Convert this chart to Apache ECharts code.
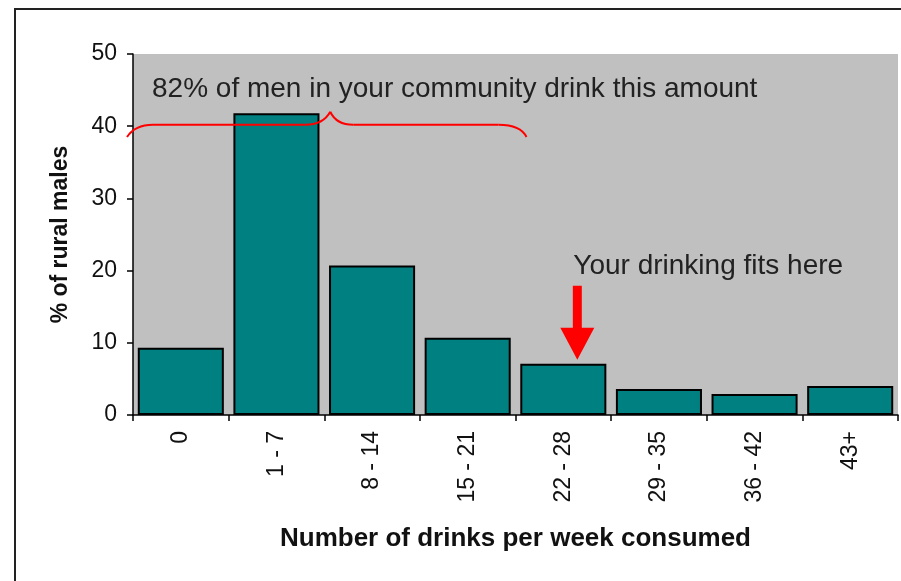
<!DOCTYPE html>
<html>
<head>
<meta charset="utf-8">
<script src="https://cdn.jsdelivr.net/npm/echarts@6/dist/echarts.min.js"></script>
<style>
  html, body { margin: 0; padding: 0; background: #fff; }
  #chart { width: 901px; height: 581px; }
</style>
</head>
<body>
<div id="chart"></div>
<script>
// Weekly drink counts for rural males
const categories = ['0', '1 - 7', '8 - 14', '15 - 21', '22 - 28', '29 - 35', '36 - 42', '43+'];
const percentMales = [9.3, 41.8, 20.7, 10.7, 7.1, 3.6, 2.9, 4.0];
const yTicks = { min: 0, max: 50, interval: 10 };

// Annotation texts and the categories they refer to
const braceText = '82% of men in your community drink this amount';
const braceFirst = 0;   // first category under the brace
const braceLast = 3;    // last category under the brace
const arrowText = 'Your drinking fits here';
const arrowCategory = 4;

const FONT = "'Liberation Sans', Arial, sans-serif";

const chart = echarts.init(document.getElementById('chart'), null, { renderer: 'canvas' });

chart.setOption({
  animation: false,
  backgroundColor: '#ffffff',
  grid: {
    left: 133, right: 3, top: 54, bottom: 166,
    show: true, backgroundColor: '#C0C0C0', borderWidth: 0
  },
  xAxis: {
    type: 'category',
    data: categories,
    boundaryGap: true,
    axisLine: { show: true, lineStyle: { color: '#000', width: 1.5 } },
    axisTick: { show: true, length: 6, inside: false, lineStyle: { color: '#000', width: 1.5 } },
    axisLabel: { rotate: 90, fontSize: 23, color: '#111', margin: 16, fontFamily: FONT },
    name: 'Number of drinks per week consumed',
    nameLocation: 'middle',
    nameGap: 111,
    nameTextStyle: { fontSize: 26, fontWeight: 'bold', color: '#111', fontFamily: FONT }
  },
  yAxis: {
    type: 'value',
    min: yTicks.min, max: yTicks.max, interval: yTicks.interval,
    axisLine: { show: true, lineStyle: { color: '#000', width: 1.5 } },
    axisTick: { show: true, length: 6, inside: false, lineStyle: { color: '#000', width: 1.5 } },
    splitLine: { show: false },
    axisLabel: { fontSize: 23, color: '#111', margin: 16, fontFamily: FONT },
    name: '% of rural males',
    nameLocation: 'middle',
    nameGap: 61,
    nameTextStyle: { fontSize: 23, fontWeight: 'bold', color: '#111', fontFamily: FONT }
  },
  series: [{
    type: 'bar',
    data: percentMales,
    barCategoryGap: '10%',
    itemStyle: { color: '#008080', borderColor: '#000', borderWidth: 2 }
  }]
});

// Place the brace, arrow and notes against the axes
function drawAnnotations() {
  const px = (i) => chart.convertToPixel({ xAxisIndex: 0 }, i);
  const py = (v) => chart.convertToPixel({ yAxisIndex: 0 }, v);
  const band = px(1) - px(0);

  const L = px(braceFirst) - band / 2 - 6;
  const R = px(braceLast) + band / 2 + 11;
  const C = px(braceFirst) + band * 1.5 + 6;
  const yLine = py(40.2);
  const yEnd = py(38.5);
  const yCusp = py(42.0);

  const red = { fill: 'none', stroke: '#FF0000', lineWidth: 2 };
  const curve = (x1, y1, cx, cy, x2, y2) => ({
    type: 'bezierCurve', silent: true, z: 100,
    shape: { x1: x1, y1: y1, cpx1: cx, cpy1: cy, x2: x2, y2: y2 },
    style: red
  });
  const seg = (x1, y1, x2, y2) => ({
    type: 'line', silent: true, z: 100,
    shape: { x1: x1, y1: y1, x2: x2, y2: y2 },
    style: red
  });

  const ax = px(arrowCategory) + 14;
  const tip = py(percentMales[arrowCategory]) - 4;
  const headH = 32, headW = 34, shaftW = 9, shaftTop = tip - 74;

  chart.setOption({
    graphic: [
      {
        type: 'rect', silent: true, z: 100,
        shape: { x: 15, y: 9, width: 1000, height: 1000 },
        style: { fill: 'none', stroke: '#222', lineWidth: 2 }
      },
      curve(L, yEnd, L + 8, yLine, L + 26, yLine),
      seg(L + 26, yLine, C - 25, yLine),
      curve(C - 25, yLine, C - 7, yLine, C, yCusp),
      curve(C, yCusp, C + 6, yLine, C + 23, yLine),
      seg(C + 23, yLine, R - 28, yLine),
      curve(R - 28, yLine, R - 6, yLine, R, yEnd),
      {
        type: 'text', silent: true, z: 100,
        x: px(braceFirst) - band / 2 + 19, y: py(45.1),
        style: { text: braceText, font: '28px ' + FONT, fill: '#222', textVerticalAlign: 'middle' }
      },
      {
        type: 'polygon', silent: true, z: 100,
        shape: {
          points: [
            [ax - shaftW / 2, shaftTop], [ax + shaftW / 2, shaftTop],
            [ax + shaftW / 2, tip - headH], [ax + headW / 2, tip - headH],
            [ax, tip],
            [ax - headW / 2, tip - headH], [ax - shaftW / 2, tip - headH]
          ]
        },
        style: { fill: '#FF0000' }
      },
      {
        type: 'text', silent: true, z: 100,
        x: ax - 4, y: py(20.6),
        style: { text: arrowText, font: '28px ' + FONT, fill: '#222', textVerticalAlign: 'middle' }
      }
    ]
  });
}
drawAnnotations();
</script>
</body>
</html>
